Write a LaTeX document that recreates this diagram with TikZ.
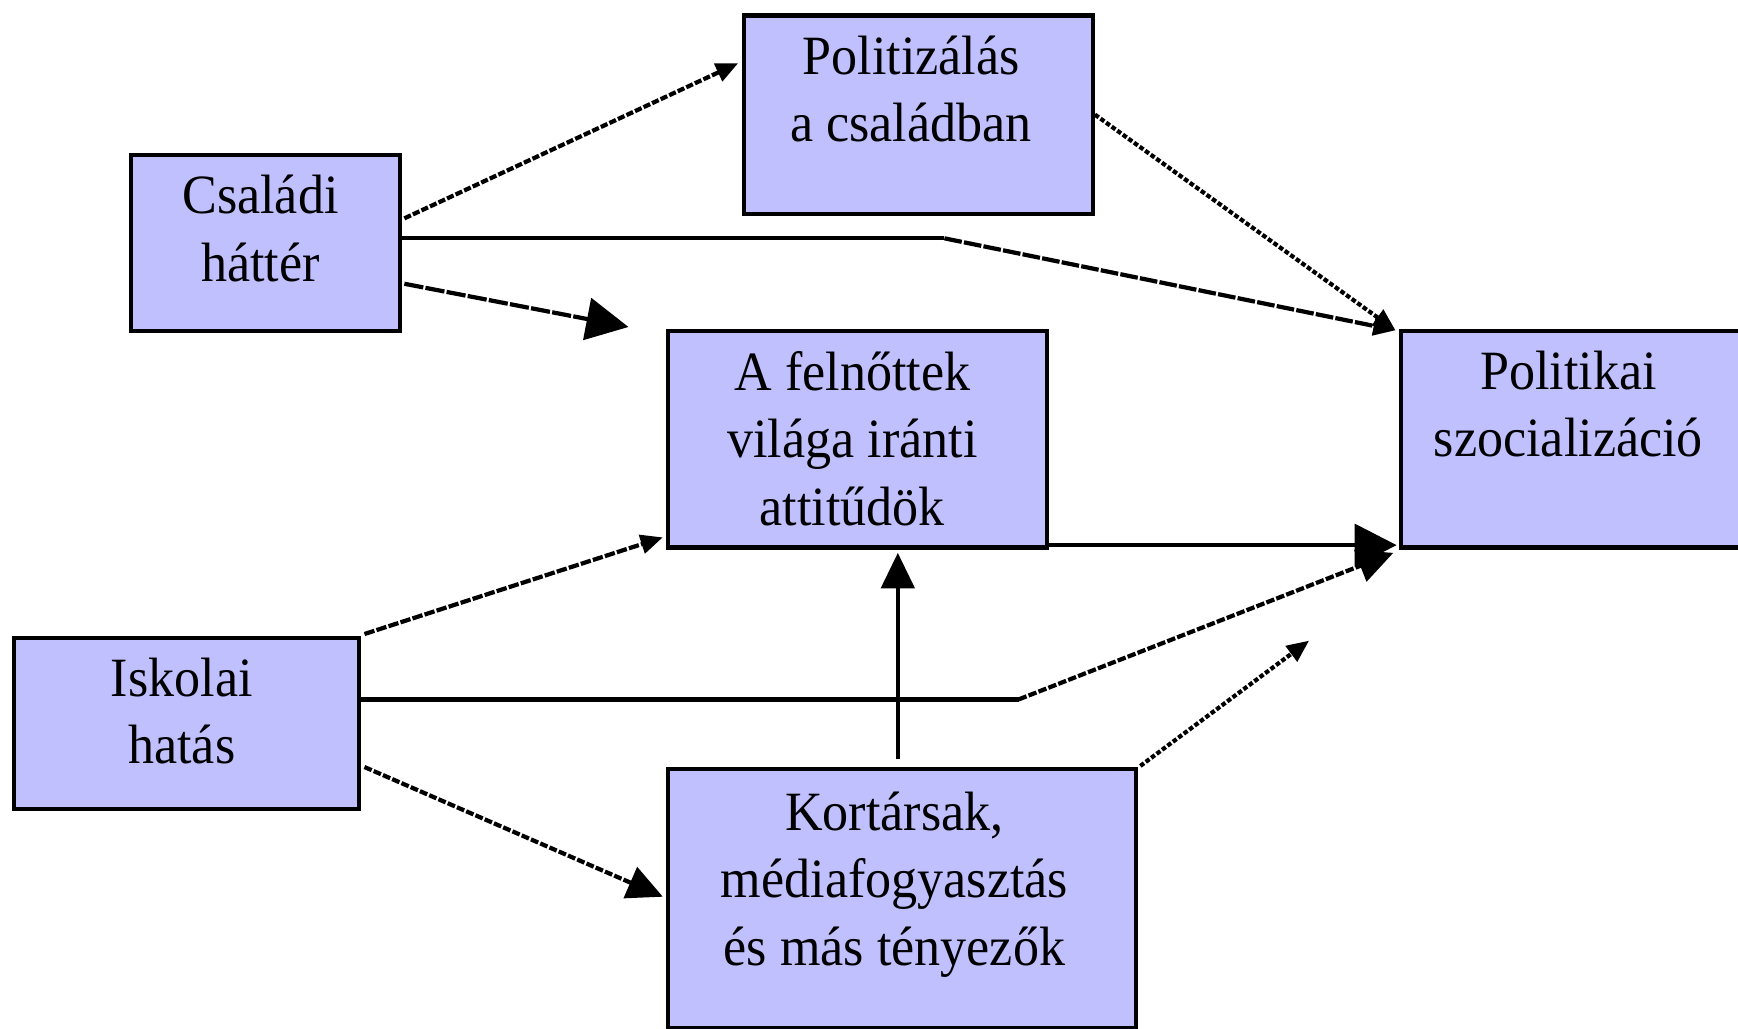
\documentclass[tikz,border=0pt]{standalone}
\usepackage{fontspec}
\setmainfont{Liberation Serif}[FakeStretch=0.94]
\usetikzlibrary{arrows.meta,calc}
\definecolor{boxfill}{HTML}{C0C0FF}
\begin{document}
\begin{tikzpicture}[x=1pt,y=-1pt,line width=3.8pt,
  box/.style={draw=black, fill=boxfill, line width=3.8pt, rectangle, inner sep=0pt, anchor=north west},
  txt/.style={font=\fontsize{50}{61}\selectfont, align=center, anchor=base, inner sep=0pt},
  jag/.style={dash pattern=on #1 off 2pt},
  tipS/.style={-{Triangle[length=20pt,width=17pt]}},
  tipL/.style={-{Triangle[length=38pt,width=38pt]}},
  tipM/.style={-{Triangle[length=32pt,width=30pt]}}]
\useasboundingbox (0,0) rectangle (1568,928);
% boxes
\node[box, minimum width=315pt, minimum height=179pt] (pol) at (669,12) {};
\node[box, minimum width=243pt, minimum height=159pt] (csal) at (116,138) {};
\node[box, minimum width=342pt, minimum height=195pt] (feln) at (601,297) {};
\node[box, minimum width=312pt, minimum height=195pt] (psz) at (1262,297) {};
\node[box, minimum width=311pt, minimum height=154pt] (isk) at (11,574) {};
\node[box, minimum width=422pt, minimum height=234pt] (kort) at (601,692) {};
% texts (anchor base = baseline of the last line)
\node[txt] (tpol) at (822,128) {Politizálás\\a családban};
\node[txt] (tcsal) at (235,254) {Családi\\háttér};
\node[txt] (tfeln) at (769,474) {A felnőttek\\világa iránti\\attitűdök};
\node[txt] (tpsz) at (1415,412) {Politikai\\szocializáció};
\node[txt] (tisk) at (164,689) {Iskolai\\hatás};
\node[txt] (tkort) at (807,871) {Kortársak,\\médiafogyasztás\\és más tényezők};
% free points
\coordinate (bk) at (852,215);
\coordinate (cend) at (567,295);
\coordinate (gk) at (919,631);
\coordinate (jend) at (1181,578);
% connectors
\draw[jag=6.5pt, tipS] ($(csal.north east)+(2,59)$) -- ($(pol.north west)+(-3,45)$);
\draw ($(csal.north east)+(0,77)$) -- (bk);
\draw[jag=16pt, tipS] (bk) -- ($(psz.north west)+(-3,1)$);
\draw[jag=17.4pt, tipL] ($(csal.north east)+(2,118)$) -- (cend);
\draw[jag=4.2pt, tipS] (pol.east) -- ($(psz.north west)+(-3,1)$);
\draw[tipL] ($(feln.south east)+(0,-4)$) -- ($(psz.south west)+(-2,-4)$);
\draw[jag=9.4pt, tipS] ($(isk.north east)+(3,-2)$) -- ($(feln.south west)+(-3,-11)$);
\draw ($(isk.north east)+(0,57)$) -- (gk);
\draw[jag=7.6pt, tipM] (gk) -- ($(psz.south west)+(-5,3)$);
\draw[jag=7.1pt, tipM] ($(isk.north east)+(3,118)$) -- ($(kort.north west)+(-3,117)$);
\draw[tipM] ($(kort.north west)+(209,-7)$) -- ($(feln.south west)+(209,3)$);
\draw[jag=4.1pt, tipS] ($(kort.north east)+(2,-1)$) -- (jend);
\end{tikzpicture}
\end{document}
